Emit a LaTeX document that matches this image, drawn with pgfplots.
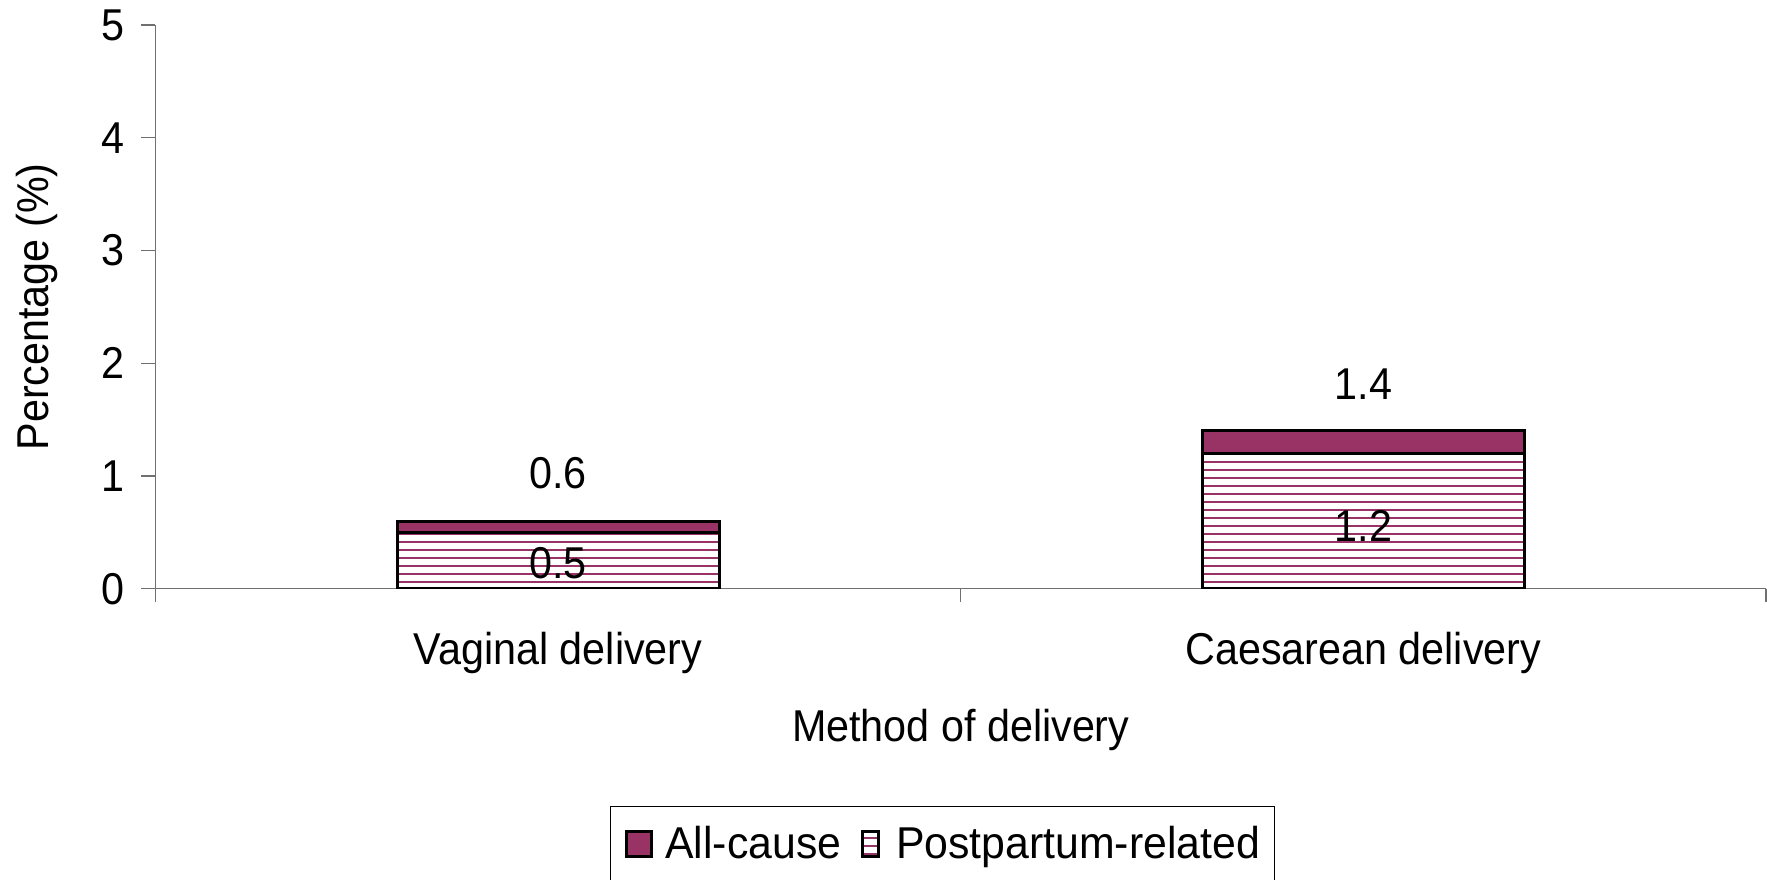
\documentclass[border=0pt]{standalone}
\usepackage{pgfplots}
\pgfplotsset{compat=1.18}
\usepackage{fontspec}
\setmainfont{Liberation Sans}[FakeStretch=0.926]
\newfontfamily\legfont{Liberation Sans}[FakeStretch=0.96]
\usetikzlibrary{patterns}
\definecolor{plum}{HTML}{993366}
\definecolor{axgray}{HTML}{707070}
\newcommand\fsz{\fontsize{22.3pt}{27pt}\selectfont}
\newcommand\lsz{\legfont\fontsize{22.3pt}{27pt}\selectfont}
\pgfdeclarepatternformonly{hlines}{\pgfpoint{-1pt}{-1pt}}{\pgfpoint{601pt}{5pt}}{\pgfpoint{600pt}{4pt}}{%
  \pgfpathrectangle{\pgfpoint{-0.5pt}{0pt}}{\pgfpoint{601pt}{1.1pt}}\pgfusepath{fill}}
\begin{document}
\fsz
\begin{tikzpicture}
\useasboundingbox (0,0) rectangle (883.5pt,439.5pt);
\begin{axis}[
  at={(77.75pt,145.15pt)}, anchor=south west,
  scale only axis, width=805.25pt, height=281.85pt,
  xmin=0.5, xmax=2.5, ymin=0, ymax=5,
  axis x line=bottom, axis y line=left,
  axis line style={-, draw=axgray, line width=0.6pt},
  ytick={0,1,2,3,4,5},
  xtick={1,2}, xticklabels={Vaginal delivery, Caesarean delivery},
  minor xtick={0.5,1.5,2.5},
  major x tick style={draw=none},
  tick style={draw=axgray, line width=0.6pt},
  tick align=outside,
  major tick length=7pt, minor tick length=6.5pt,
  /pgf/number format/assume math mode=true,
  yticklabel style={anchor=east, inner sep=0pt, xshift=-8.25pt, font=\fsz},
  xticklabel style={anchor=north, inner sep=0pt, yshift=-14.5pt, font=\fsz},
  xlabel={Method of delivery},
  ylabel={Percentage (\%)},
  every axis x label/.style={at={(axis description cs:0.5,-0.2129)}, anchor=north, inner sep=0pt, font=\fsz},
  every axis y label/.style={at={(axis description cs:-0.0733,0.5)}, rotate=90, anchor=center, inner sep=0pt, font=\fsz},
  ybar stacked, bar width=0.4,
  legend columns=2,
  legend style={at={(0.2822,-0.3855)}, anchor=north west, draw=black, line width=0.6pt,
    font=\lsz, inner xsep=7.2pt, inner ysep=9.7pt,
    nodes={inner sep=0pt},
    /tikz/every odd column/.append style={column sep=6.2pt},
    /tikz/every even column/.append style={column sep=7.75pt}},
]
\addlegendimage{legend image code/.code={\draw[fill=plum,draw=black,line width=1.5pt] (0pt,-5.25pt) rectangle (12.5pt,7.25pt);}}
\addlegendentry{All-cause}
\addlegendimage{legend image code/.code={\path (0pt,0pt) (12.75pt,0pt);\draw[preaction={fill=white},pattern=hlines,pattern color=plum,draw=black,line width=1.5pt] (2.25pt,-5.25pt) rectangle (10.25pt,7.25pt);}}
\addlegendentry{Postpartum-related}
% Postpartum-related (bottom segment)
\addplot[forget plot, draw=black, line width=1.5pt, preaction={fill=white},
  pattern=hlines, pattern color=plum]
  coordinates {(1,0.5) (2,1.2)};
% All-cause remainder (top segment): all-cause 0.6 and 1.4
\addplot[forget plot, fill=plum, draw=black, line width=1.5pt]
  coordinates {(1,0.1) (2,0.2)};
\coordinate (lv) at (axis cs:1,1.027);
\coordinate (lc) at (axis cs:2,1.812);
\coordinate (pv) at (axis cs:1,0.224);
\coordinate (pc) at (axis cs:2,0.556);
\end{axis}
\node[inner sep=0pt] at (lv) {0.6};
\node[inner sep=0pt] at (lc) {1.4};
\node[inner sep=0pt] at (pv) {0.5};
\node[inner sep=0pt] at (pc) {1.2};
\end{tikzpicture}
\end{document}
